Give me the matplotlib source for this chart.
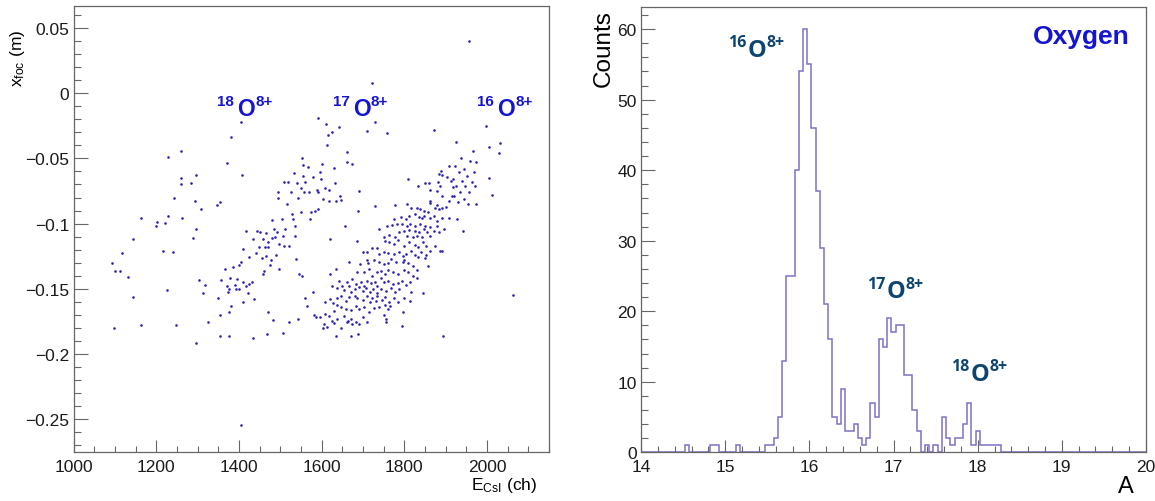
import numpy as np
import matplotlib
matplotlib.use("Agg")
import matplotlib.pyplot as plt
from matplotlib.ticker import MultipleLocator, FuncFormatter

plt.rcParams['font.family'] = ['Liberation Sans', 'DejaVu Sans']
plt.rcParams['mathtext.fontset'] = 'custom'
plt.rcParams['mathtext.rm'] = 'Liberation Sans'
plt.rcParams['mathtext.it'] = 'Liberation Sans:italic'
plt.rcParams['mathtext.bf'] = 'Liberation Sans:bold'

# ---- left panel: x_foc vs E_CsI ----
# 18O band (low energy, sparse)
e_18 = [1094, 1101, 1112, 1116, 1131, 1144, 1144, 1097, 1162, 1164, 1199, 1201, 1216, 1221,
        1226, 1228, 1229, 1241, 1243, 1248, 1261, 1260, 1260, 1263, 1283, 1289, 1295, 1293,
        1297, 1296, 1304, 1309, 1312, 1319, 1326, 1346, 1353, 1350, 1354, 1354, 1356, 1367,
        1372, 1382, 1404, 1407, 1376, 1405, 1433, 1468, 1507]
x_18 = [-0.130, -0.136, -0.136, -0.1225, -0.1407, -0.112, -0.156, -0.180, -0.096, -0.178,
        -0.102, -0.099, -0.121, -0.0995, -0.1506, -0.0486, -0.094, -0.122, -0.080, -0.178,
        -0.044, -0.065, -0.0696, -0.096, -0.0685, -0.111, -0.0627, -0.083, -0.104, -0.1916,
        -0.143, -0.0887, -0.153, -0.147, -0.1757, -0.0857, -0.0836, -0.157, -0.170, -0.1864,
        -0.143, -0.1348, -0.0537, -0.0332, -0.0222, -0.0624, -0.1864, -0.2545, -0.1877,
        -0.1847, -0.1841]

# 17O band (middle)
e_17 = [1370, 1374, 1376, 1379, 1381, 1375, 1386, 1391, 1394, 1396, 1400, 1401, 1405, 1409,
        1411, 1411, 1416, 1417, 1422, 1424, 1424, 1431, 1433, 1437, 1441, 1444, 1449, 1452,
        1456, 1458, 1459, 1461, 1463, 1465, 1466, 1470, 1471, 1471, 1475, 1477, 1479, 1481,
        1482, 1486, 1487, 1489, 1491, 1494, 1494, 1496, 1498, 1503, 1507, 1508, 1510, 1512,
        1516, 1519, 1521, 1522, 1526, 1528, 1531, 1534, 1535, 1536, 1538, 1540, 1542, 1542,
        1545, 1549, 1550, 1552, 1552, 1554, 1556, 1557, 1560, 1560, 1564, 1566, 1569, 1571,
        1575, 1578, 1580, 1582, 1584, 1587, 1589, 1591, 1591, 1592, 1595, 1598, 1601, 1604,
        1608, 1610, 1612, 1615, 1617, 1617, 1620, 1626, 1630, 1633, 1635, 1643, 1645, 1648,
        1656, 1661, 1662, 1674, 1685, 1687, 1690]
x_17 = [-0.1476, -0.1527, -0.150, -0.142, -0.163, -0.168, -0.1335, -0.147, -0.150, -0.1425,
        -0.132, -0.150, -0.1297, -0.145, -0.1194, -0.160, -0.1054, -0.1476, -0.1535, -0.1463,
        -0.1258, -0.145, -0.112, -0.158, -0.1225, -0.1054, -0.118, -0.1066, -0.1266, -0.1386,
        -0.112, -0.136, -0.118, -0.1246, -0.107, -0.1143, -0.118, -0.168, -0.132, -0.128,
        -0.097, -0.111, -0.1737, -0.104, -0.1105, -0.124, -0.1066, -0.076, -0.0806, -0.1348,
        -0.1156, -0.0964, -0.1097, -0.1169, -0.0683, -0.104, -0.085, -0.0683, -0.1169, -0.1752,
        -0.076, -0.0926, -0.0964, -0.0614, -0.1092, -0.102, -0.127, -0.0688, -0.0806, -0.1732,
        -0.1386, -0.0729, -0.0913, -0.0499, -0.1399, -0.0632, -0.055, -0.0754, -0.0678, -0.157,
        -0.1634, -0.0568, -0.0754, -0.0964, -0.0913, -0.0645, -0.1527, -0.170, -0.090, -0.1719,
        -0.0742, -0.0189, -0.0887, -0.0754, -0.0606, -0.0657, -0.0542, -0.081, -0.0729, -0.0235,
        -0.040, -0.032, -0.0742, -0.0824, -0.1118, -0.030, -0.0575, -0.0688, -0.0824, -0.0261,
        -0.0785, -0.0818, -0.1015, -0.0453, -0.0524, -0.0542, -0.1130, -0.090, -0.075]

# 16O band (dense, high energy)
e_16 = [1753, 1764, 1776, 1784, 1799, 1812, 1825, 1834, 1845, 1853,
        1701, 1711, 1723, 1735, 1739, 1750, 1760, 1776, 1788, 1796, 1804, 1816, 1825, 1841,
        1861, 1875, 1886, 1891,
        1666, 1694, 1711, 1712, 1727, 1739, 1751, 1760, 1768, 1780, 1796, 1800, 1808, 1820,
        1833, 1849, 1853,
        1636, 1686, 1703, 1715, 1723, 1735, 1743, 1753, 1760, 1772, 1784, 1799, 1808, 1820,
        1831, 1857,
        1620, 1642, 1650, 1662, 1674, 1682, 1696, 1703, 1711, 1719, 1729, 1735, 1743, 1751,
        1760, 1772, 1784, 1794, 1804, 1815, 1831,
        1625, 1638, 1654, 1666, 1670, 1680, 1690, 1699, 1707, 1717, 1725, 1733, 1743, 1755,
        1768, 1777, 1788, 1816, 1845,
        1609, 1620, 1628, 1638, 1646, 1658, 1666, 1680, 1686, 1699, 1711, 1717, 1723, 1731,
        1735, 1745, 1753, 1764, 1776, 1784, 1800, 1815,
        1638, 1629, 1646, 1658, 1670, 1682, 1690, 1703, 1715, 1727, 1739, 1753, 1760, 1766, 1796,
        1597, 1607, 1617, 1625, 1638, 1654, 1664, 1672, 1682, 1699, 1711, 1751, 1755,
        1605, 1613, 1629, 1646, 1662, 1674, 1690, 1755, 1794,
        1603, 1636, 1672, 1688, 1894,
        1908, 1889, 1883, 1892, 1833, 1850, 1859, 1862, 1882, 1887, 1878, 1904, 1912, 1917,
        1892, 1861, 1863, 1879, 1875, 1883, 1892, 1901, 1908, 1916, 1778, 1807, 1817, 1831,
        1839, 1847, 1858, 1825, 1811, 1835, 1843, 1847, 1863, 1871, 1879, 1892, 1908, 1803,
        1791, 1774, 1770, 1782, 1795, 1807, 1815, 1827, 1839, 1851, 1863, 1879, 1811, 1825,
        1835, 1847, 1855, 1871, 1883, 1896, 1799, 1787, 1762, 1750, 1778, 1807, 1820, 1831,
        1843, 1863, 1738, 1730, 1758,
        1919, 1921, 1923, 1924, 1927, 1930, 1932, 1934, 1936, 1939, 1941, 1944, 1945, 1948,
        1951, 1954, 1956, 1960, 1963, 1967, 1969, 1971, 1974, 1974]
x_16 = [-0.1131, -0.1144, -0.1156, -0.1126, -0.1169, -0.1138, -0.1164, -0.1182, -0.1144, -0.1169,
        -0.1215, -0.1215, -0.1190, -0.1190, -0.1233, -0.1220, -0.1226, -0.1233, -0.1220, -0.1246,
        -0.1233, -0.1208, -0.1241, -0.1220, -0.1208, -0.1169, -0.1208, -0.1208,
        -0.1292, -0.1310, -0.1277, -0.1302, -0.1277, -0.1297, -0.1310, -0.1302, -0.1272, -0.1292,
        -0.1297, -0.1277, -0.1302, -0.1323, -0.1259, -0.1266, -0.1241,
        -0.1348, -0.1374, -0.1369, -0.1348, -0.1400, -0.1369, -0.1361, -0.1387, -0.1354, -0.1374,
        -0.1387, -0.1354, -0.1374, -0.1400, -0.1354, -0.1328,
        -0.1387, -0.1438, -0.1476, -0.1446, -0.1425, -0.1464, -0.1446, -0.1476, -0.1438, -0.1456,
        -0.1446, -0.1476, -0.1420, -0.1446, -0.1438, -0.1464, -0.1456, -0.1438, -0.1471, -0.1446,
        -0.1420,
        -0.1476, -0.1497, -0.1507, -0.1482, -0.1522, -0.1502, -0.1489, -0.1515, -0.1497, -0.1522,
        -0.1502, -0.1533, -0.1502, -0.1515, -0.1497, -0.1528, -0.1502, -0.1522, -0.1533,
        -0.1599, -0.1579, -0.1610, -0.1574, -0.1553, -0.1592, -0.1566, -0.1553, -0.1574, -0.1584,
        -0.1558, -0.1604, -0.1574, -0.1592, -0.1553, -0.1584, -0.1566, -0.1599, -0.1574, -0.1604,
        -0.1574, -0.1592,
        -0.1625, -0.1668, -0.1643, -0.1656, -0.1661, -0.1635, -0.1656, -0.1643, -0.1681, -0.1650,
        -0.1643, -0.1625, -0.1656, -0.1630, -0.1676,
        -0.1720, -0.1694, -0.1712, -0.1745, -0.1732, -0.1707, -0.1745, -0.1732, -0.1753, -0.1720,
        -0.1758, -0.1702, -0.1732,
        -0.1771, -0.1796, -0.1763, -0.1804, -0.1758, -0.1771, -0.1771, -0.1758, -0.1789,
        -0.1804, -0.1860, -0.1860, -0.1848, -0.1860,
        -0.0560, -0.0594, -0.0619, -0.0627, -0.0709, -0.0688, -0.0688, -0.0742, -0.0683, -0.0709,
        -0.0747, -0.0645, -0.0670, -0.0722, -0.0786, -0.0824, -0.0842, -0.0857, -0.0883, -0.0888,
        -0.0883, -0.0875, -0.0824, -0.0786, -0.0857, -0.0850, -0.0883, -0.0878, -0.0888, -0.0901,
        -0.0914, -0.0926, -0.0944, -0.0952, -0.0960, -0.0939, -0.0960, -0.0944, -0.0977, -0.0960,
        -0.0960, -0.0965, -0.0952, -0.0965, -0.1011, -0.1003, -0.1003, -0.1016, -0.1003, -0.1021,
        -0.1003, -0.1016, -0.1029, -0.1016, -0.1047, -0.1054, -0.1067, -0.1041, -0.1067, -0.1054,
        -0.1067, -0.1041, -0.1054, -0.1067, -0.1088, -0.1105, -0.1105, -0.1093, -0.1105, -0.1098,
        -0.1105, -0.1098, -0.1041, -0.0867, -0.1016,
        -0.0657, -0.0785, -0.0555, -0.0708, -0.0964, -0.0836, -0.0606, -0.0759, -0.0499, -0.0670,
        -0.1054, -0.0810, -0.0580, -0.0708, -0.0632, -0.0850, -0.0759, -0.0517, -0.0678, -0.0440,
        -0.0606, -0.0708, -0.0529, -0.0850]

# isolated points
e_out = [1711, 1722, 1728, 1757, 1873, 1924, 1956, 1997, 2006, 2032, 2028, 2006, 2012, 2063, 1808]
x_out = [-0.0286, 0.0079, -0.0217, -0.0304, -0.0281, -0.0371, 0.0404, -0.0248, -0.0414, -0.0381,
         -0.0458, -0.0652, -0.078, -0.1547, -0.0657]

# ---- right panel: mass histogram (bin centre -> counts, 0.05 wide bins) ----
hist_a = [14.55, 14.85, 14.90, 15.15, 15.50, 15.55, 15.60, 15.65, 15.70, 15.75, 15.80, 15.85,
          15.90, 15.95, 16.00, 16.05, 16.10, 16.15, 16.20, 16.25, 16.30, 16.35, 16.40, 16.45,
          16.50, 16.55, 16.60, 16.65, 16.70, 16.75, 16.80, 16.85, 16.90, 16.95, 17.00, 17.05,
          17.10, 17.15, 17.20, 17.25, 17.30, 17.40, 17.50, 17.60, 17.65, 17.70, 17.75, 17.80,
          17.85, 17.90, 17.95, 18.00, 18.05, 18.10, 18.15, 18.20, 18.25]
hist_n = [1, 1, 1, 1, 1, 1, 2, 5, 13, 25, 25, 40,
          54, 60, 55, 46, 37, 29, 21, 16, 5, 4, 9, 3,
          3, 4, 2, 1, 2, 7, 5, 16, 15, 19, 17, 18,
          18, 11, 11, 6, 3, 1, 1, 5, 2, 1, 2, 2,
          4, 7, 1, 3, 1, 1, 1, 1, 1]

dot_col = '#2a22b0'
ann_blue = '#1414d2'
ann_teal = '#0d4470'
hist_col = '#7d72c8'
frame_col = '#666666'


def minus_fmt(v, pos):
    s = '%g' % round(v, 6)
    return s.replace('-', '\u2212')


def style_axes(ax):
    for side in ['top', 'right', 'bottom', 'left']:
        ax.spines[side].set_color(frame_col)
        ax.spines[side].set_linewidth(0.9)
    ax.tick_params(which='both', direction='in', top=False, right=False,
                   color=frame_col, width=0.8, labelsize=12.5, labelcolor='#1a1a1a')
    ax.tick_params(axis='y', which='major', length=10, pad=3)
    ax.tick_params(axis='y', which='minor', length=5)
    ax.tick_params(axis='x', which='major', length=8.5, pad=5)
    ax.tick_params(axis='x', which='minor', length=4.5)


def isotope(ax, x, y, mass, size, color, family, left_gap, right_gap, sup_scale):
    # big bold O centred on (x, y) with mass number and charge state as superscripts
    kw = dict(xycoords='data', textcoords='offset points', fontweight='bold',
              color=color, family=family, va='baseline')
    ax.annotate('O', (x, y), xytext=(0, -0.36 * size), ha='center', fontsize=size, **kw)
    ax.annotate(mass, (x, y), xytext=(-left_gap * size, 0.05 * size), ha='right',
                fontsize=sup_scale * size, **kw)
    ax.annotate('8+', (x, y), xytext=(right_gap * size, 0.05 * size), ha='left',
                fontsize=sup_scale * size, **kw)


fig = plt.figure(figsize=(11.55, 5.02), dpi=100)
ax1 = fig.add_axes([0.0637, 0.0982, 0.4116, 0.8873])
ax2 = fig.add_axes([0.5550, 0.097, 0.4372, 0.8865])

# left: scatter
for e, x in [(e_18, x_18), (e_17, x_17), (e_16, x_16), (e_out, x_out)]:
    ax1.scatter(e, x, s=3.5, color=dot_col, linewidths=0, marker='o')
ax1.set_xlim(1000, 2150)
ax1.set_ylim(-0.275, 0.0667)
ax1.xaxis.set_major_locator(MultipleLocator(200))
ax1.xaxis.set_minor_locator(MultipleLocator(50))
ax1.yaxis.set_major_locator(MultipleLocator(0.05))
ax1.yaxis.set_minor_locator(MultipleLocator(0.01))
ax1.yaxis.set_major_formatter(FuncFormatter(minus_fmt))
style_axes(ax1)
ax1.set_xlabel(r'E$_\mathregular{CsI}$ (ch)', fontsize=12.5, loc='right')
ax1.xaxis.set_label_coords(0.975, -0.052)
ax1.set_ylabel(r'x$_\mathregular{foc}$ (m)', fontsize=12.5, loc='top')
ax1.yaxis.set_label_coords(-0.098, 0.949)

for e0, m in [(1417, '18'), (1697, '17'), (2046, '16')]:
    isotope(ax1, e0, -0.0100, m, 16.5, ann_blue, 'Liberation Sans', 0.52, 0.40, 0.66)

# right: histogram
hist_edges = 13.975 + 0.05 * np.arange(122)
hist_counts = np.zeros(121)
for a, n in zip(hist_a, hist_n):
    hist_counts[int(round((a - 14.0) / 0.05))] = n
ax2.stairs(hist_counts, hist_edges, color=hist_col, linewidth=1.1)
ax2.set_xlim(14, 20)
ax2.set_ylim(0, 63.1)
ax2.xaxis.set_major_locator(MultipleLocator(1))
ax2.xaxis.set_minor_locator(MultipleLocator(0.2))
ax2.yaxis.set_major_locator(MultipleLocator(10))
ax2.yaxis.set_minor_locator(MultipleLocator(2))
style_axes(ax2)
ax2.set_xlabel('A', fontsize=17, loc='right')
ax2.xaxis.set_label_coords(0.975, -0.052)
ax2.set_ylabel('Counts', fontsize=17.5, loc='top')
ax2.yaxis.set_label_coords(-0.052, 0.996)

ax2.text(19.81, 58.1, 'Oxygen', ha='right', va='baseline', fontsize=19,
         fontweight='bold', color=ann_blue)
for a0, c0, m in [(15.38, 57.4, '16'), (17.03, 23.2, '17'), (18.03, 11.5, '18')]:
    isotope(ax2, a0, c0, m, 17, ann_teal, 'Open Sans', 0.47, 0.39, 0.68)

fig.savefig('out.png', dpi=100)
